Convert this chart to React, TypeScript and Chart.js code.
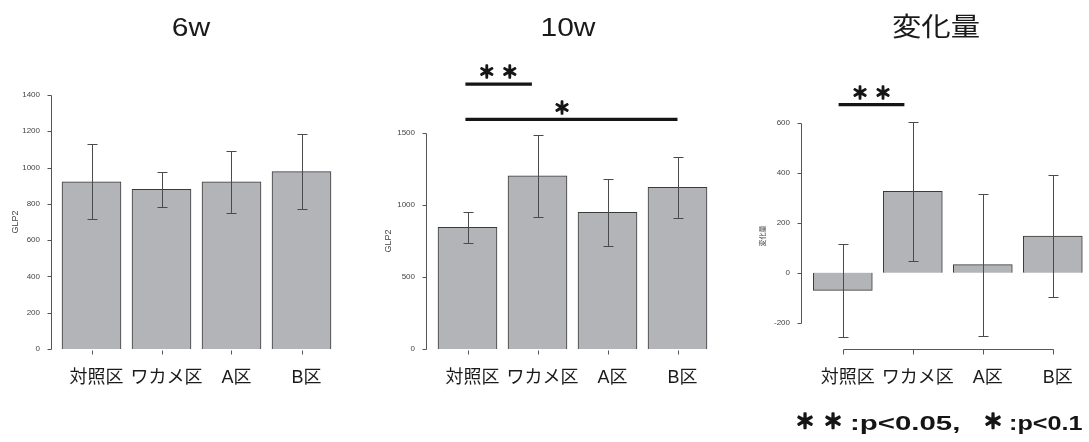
import React, { useEffect, useRef } from 'react';
import { Chart, registerables } from 'chart.js';

Chart.register(...registerables);

// ---------------- data ----------------
const categories = ['対照区', 'ワカメ区', 'A区', 'B区'];

const mean6w = [922, 880, 922, 978];
const sd6w = [206, 95, 172, 207];
const mean10w = [845, 1202, 949, 1122];
const sd10w = [107, 283, 235, 213];
const meanDiff = [-71, 326, 32, 147];
const sdDiff = [185, 280, 285, 243];

const ticks6w = [0, 200, 400, 600, 800, 1000, 1200, 1400];
const ticks10w = [0, 500, 1000, 1500];
const ticksDiff = [-200, 0, 200, 400, 600];

const panelTitles = ['6w', '10w', '変化量'];
const yAxisTitles = ['GLP2', 'GLP2', '変化量'];

// significance brackets (category index units / data units)
const sig10wFrom = [-0.03, -0.03];
const sig10wTo = [0.92, 3.0];
const sig10wLevel = [1840, 1595];
const sig10wMark = ['＊＊', '＊'];
const sig10wMarkAt = [0.44, 1.35];

const sigDiffFrom = [-0.06];
const sigDiffTo = [0.88];
const sigDiffLevel = [674];
const sigDiffMark = ['＊＊'];
const sigDiffMarkAt = [0.41];

const footnoteMarks = ['＊', '＊', '＊'];
const footnoteTexts = [':p<0.05,', ':p<0.1'];

// ---------------- styles ----------------
const LATIN = '"Liberation Sans", Arial, "Noto Sans CJK JP", sans-serif';
const CJK = '"Noto Sans CJK JP", "Liberation Sans", sans-serif';
const BAR_FILL = '#b3b4b8';
const BAR_EDGE = '#3a3a3a';
const ERR = '#4a4a4a';
const AXIS = '#555555';
const INK = '#151515';
const H = 442;

type Panel = {
  left: number; width: number; firstCenter: number; band: number; plotLeft: number; right: number;
  padTop: number; bottom: number; min: number; max: number; ticks: number[];
  mean: number[]; sd: number[]; title: string; titleX: number; titleFont: string; titleSx: number;
  yTitle: string; yTitleSize: number; yTitleFont: string; yTitlePad: number; xLine: boolean;
  sig?: { from: number[]; to: number[]; level: number[]; mark: string[]; at: number[] };
  footnote?: boolean;
};

const panels: Panel[] = [
  {
    left: 0, width: 365, firstCenter: 91.5, band: 70, plotLeft: 52, right: 345,
    padTop: 95, bottom: 349, min: 0, max: 1400, ticks: ticks6w,
    mean: mean6w, sd: sd6w, title: panelTitles[0], titleX: 191, titleFont: `25px ${LATIN}`, titleSx: 1.2,
    yTitle: yAxisTitles[0], yTitleSize: 9, yTitleFont: LATIN, yTitlePad: 11, xLine: false,
  },
  {
    left: 375, width: 365, firstCenter: 92.5, band: 70, plotLeft: 52, right: 345,
    padTop: 133, bottom: 349, min: 0, max: 1500, ticks: ticks10w,
    mean: mean10w, sd: sd10w, title: panelTitles[1], titleX: 193, titleFont: `25px ${LATIN}`, titleSx: 1.2,
    yTitle: yAxisTitles[1], yTitleSize: 9, yTitleFont: LATIN, yTitlePad: 9, xLine: false,
    sig: { from: sig10wFrom, to: sig10wTo, level: sig10wLevel, mark: sig10wMark, at: sig10wMarkAt },
  },
  {
    left: 750, width: 339, firstCenter: 92.8, band: 70, plotLeft: 52, right: 335,
    padTop: 123, bottom: 349, min: -306, max: 600, ticks: ticksDiff,
    mean: meanDiff, sd: sdDiff, title: panelTitles[2], titleX: 186, titleFont: `26px ${CJK}`, titleSx: 1.13,
    yTitle: yAxisTitles[2], yTitleSize: 7, yTitleFont: CJK, yTitlePad: 9, xLine: true,
    sig: { from: sigDiffFrom, to: sigDiffTo, level: sigDiffLevel, mark: sigDiffMark, at: sigDiffMarkAt },
    footnote: true,
  },
];

function stretchText(ctx: CanvasRenderingContext2D, text: string, x: number, y: number, font: string,
  sx: number, align: CanvasTextAlign, baseline: CanvasTextBaseline, color: string, strokeW = 0) {
  ctx.save();
  ctx.font = font;
  ctx.fillStyle = color;
  ctx.strokeStyle = color;
  ctx.textAlign = align;
  ctx.textBaseline = baseline;
  ctx.translate(x, y);
  ctx.scale(sx, 1);
  ctx.fillText(text, 0, 0);
  if (strokeW > 0) {
    ctx.lineWidth = strokeW;
    ctx.lineJoin = 'round';
    ctx.strokeText(text, 0, 0);
  }
  ctx.restore();
}

// draw a run of marks, one glyph at a time with a fixed pitch, centred on x
function markRun(ctx: CanvasRenderingContext2D, text: string, x: number, y: number, size: number, pitch: number, strokeW: number) {
  const chars = Array.from(text);
  const start = x - ((chars.length - 1) * pitch) / 2;
  chars.forEach((c, i) => {
    stretchText(ctx, c, start + i * pitch, y, `bold ${size}px ${CJK}`, 1, 'center', 'middle', INK, strokeW);
  });
}

function makePlugin(p: Panel) {
  return {
    id: 'panelDecor',
    afterDatasetsDraw(chart: any) {
      const ctx: CanvasRenderingContext2D = chart.ctx;
      const xs = chart.scales.x;
      const ys = chart.scales.y;
      const area = chart.chartArea;
      ctx.save();
      // error bars
      ctx.strokeStyle = ERR;
      ctx.lineWidth = 1;
      p.mean.forEach((m, i) => {
        const x = Math.round(xs.getPixelForValue(i)) + 0.5;
        const yT = Math.round(ys.getPixelForValue(m + p.sd[i])) + 0.5;
        const yB = Math.round(ys.getPixelForValue(m - p.sd[i])) + 0.5;
        ctx.beginPath();
        ctx.moveTo(x, yT); ctx.lineTo(x, yB);
        ctx.moveTo(x - 5, yT); ctx.lineTo(x + 5, yT);
        ctx.moveTo(x - 5, yB); ctx.lineTo(x + 5, yB);
        ctx.stroke();
      });
      // y axis (R style: from first to last tick)
      ctx.strokeStyle = AXIS;
      const ax = Math.round(area.left) - 0.5;
      const y0 = Math.round(ys.getPixelForValue(p.ticks[0])) + 0.5;
      const y1 = Math.round(ys.getPixelForValue(p.ticks[p.ticks.length - 1])) + 0.5;
      ctx.beginPath();
      ctx.moveTo(ax, y0); ctx.lineTo(ax, y1);
      p.ticks.forEach((t) => {
        const y = Math.round(ys.getPixelForValue(t)) + 0.5;
        ctx.moveTo(ax, y); ctx.lineTo(ax - 4, y);
      });
      ctx.stroke();
      // x axis ticks
      const by = Math.round(area.bottom) + 0.5;
      ctx.beginPath();
      if (p.xLine) {
        ctx.moveTo(Math.round(xs.getPixelForValue(0)) + 0.5, by);
        ctx.lineTo(Math.round(xs.getPixelForValue(categories.length - 1)) + 0.5, by);
      }
      categories.forEach((_, i) => {
        const x = Math.round(xs.getPixelForValue(i)) + 0.5;
        ctx.moveTo(x, by + (p.xLine ? 0 : 1)); ctx.lineTo(x, by + 5);
      });
      ctx.stroke();
      ctx.restore();
    },
    afterDraw(chart: any) {
      const ctx: CanvasRenderingContext2D = chart.ctx;
      const xs = chart.scales.x;
      const ys = chart.scales.y;
      // panel title
      stretchText(ctx, p.title, p.titleX, 36, p.titleFont, p.titleSx, 'center', 'alphabetic', '#1a1a1a');
      // significance brackets
      if (p.sig) {
        const s = p.sig;
        ctx.save();
        ctx.strokeStyle = INK;
        ctx.lineWidth = 3.3;
        s.from.forEach((f, i) => {
          const y = ys.getPixelForValue(s.level[i]);
          ctx.beginPath();
          ctx.moveTo(xs.getPixelForValue(f), y);
          ctx.lineTo(xs.getPixelForValue(s.to[i]), y);
          ctx.stroke();
          markRun(ctx, s.mark[i], xs.getPixelForValue(s.at[i]), y - 12, 17, 23, 1.4);
        });
        ctx.restore();
      }
      if (p.footnote) {
        const base = 430;
        markRun(ctx, footnoteMarks[0] + footnoteMarks[1], 69, 421, 20, 28, 1.6);
        markRun(ctx, footnoteMarks[2], 243, 421, 20, 28, 1.6);
        stretchText(ctx, footnoteTexts[0], 100, base, `bold 21px ${LATIN}`, 1.4, 'left', 'alphabetic', INK);
        stretchText(ctx, footnoteTexts[1], 259, base, `bold 21px ${LATIN}`, 1.2, 'left', 'alphabetic', INK);
      }
    },
  };
}

function PanelChart({ p }: { p: Panel }) {
  const ref = useRef<HTMLCanvasElement | null>(null);
  useEffect(() => {
    if (!ref.current) return;
    const xMin = -(p.firstCenter - p.plotLeft) / p.band;
    const xMax = xMin + (p.right - p.plotLeft) / p.band;
    const chart = new Chart(ref.current, {
      type: 'bar',
      data: {
        datasets: [{
          data: p.mean.map((v, i) => ({ x: i, y: v })),
          backgroundColor: BAR_FILL,
          borderColor: BAR_EDGE,
          borderWidth: 1,
          barThickness: 59,
        }],
      },
      options: {
        animation: false,
        responsive: false,
        maintainAspectRatio: false,
        events: [],
        layout: { padding: { left: 0, top: p.padTop, right: p.width - p.right, bottom: 0 } },
        plugins: { legend: { display: false }, tooltip: { enabled: false }, title: { display: false } },
        scales: {
          x: {
            type: 'linear',
            offset: false,
            min: xMin,
            max: xMax,
            grid: { display: false, drawTicks: false, offset: false },
            border: { display: false },
            afterBuildTicks: (s: any) => { s.ticks = categories.map((_, i) => ({ value: i })); },
            afterFit: (s: any) => { s.height = H - p.bottom; },
            ticks: {
              callback: (v: any) => categories[v] ?? '',
              font: { size: 18, family: LATIN, lineHeight: 1.2 },
              color: '#1a1a1a',
              padding: 18,
              labelOffset: 5,
              maxRotation: 0,
              autoSkip: false,
            },
          },
          y: {
            type: 'linear',
            min: p.min,
            max: p.max,
            grid: { display: false, drawTicks: false },
            border: { display: false },
            afterBuildTicks: (s: any) => { s.ticks = p.ticks.map((v) => ({ value: v })); },
            afterFit: (s: any) => { s.width = p.plotLeft; },
            ticks: {
              callback: (v: any) => String(v),
              font: { size: 8, family: LATIN },
              color: '#444',
              padding: 12,
            },
            title: {
              display: true,
              text: p.yTitle,
              color: '#444',
              font: { size: p.yTitleSize, family: p.yTitleFont, lineHeight: 1 },
              padding: { top: p.yTitlePad, bottom: 0 },
            },
          },
        },
      } as any,
      plugins: [makePlugin(p)],
    });
    return () => chart.destroy();
  }, [p]);
  return (
    <canvas
      ref={ref}
      width={p.width}
      height={H}
      style={{ position: 'absolute', left: p.left, top: 0, width: p.width, height: H }}
    />
  );
}

export default function App() {
  return (
    <div style={{ position: 'fixed', left: 0, top: 0, width: 1089, height: H, background: '#ffffff', overflow: 'hidden' }}>
      {panels.map((p, i) => <PanelChart key={i} p={p} />)}
    </div>
  );
}
